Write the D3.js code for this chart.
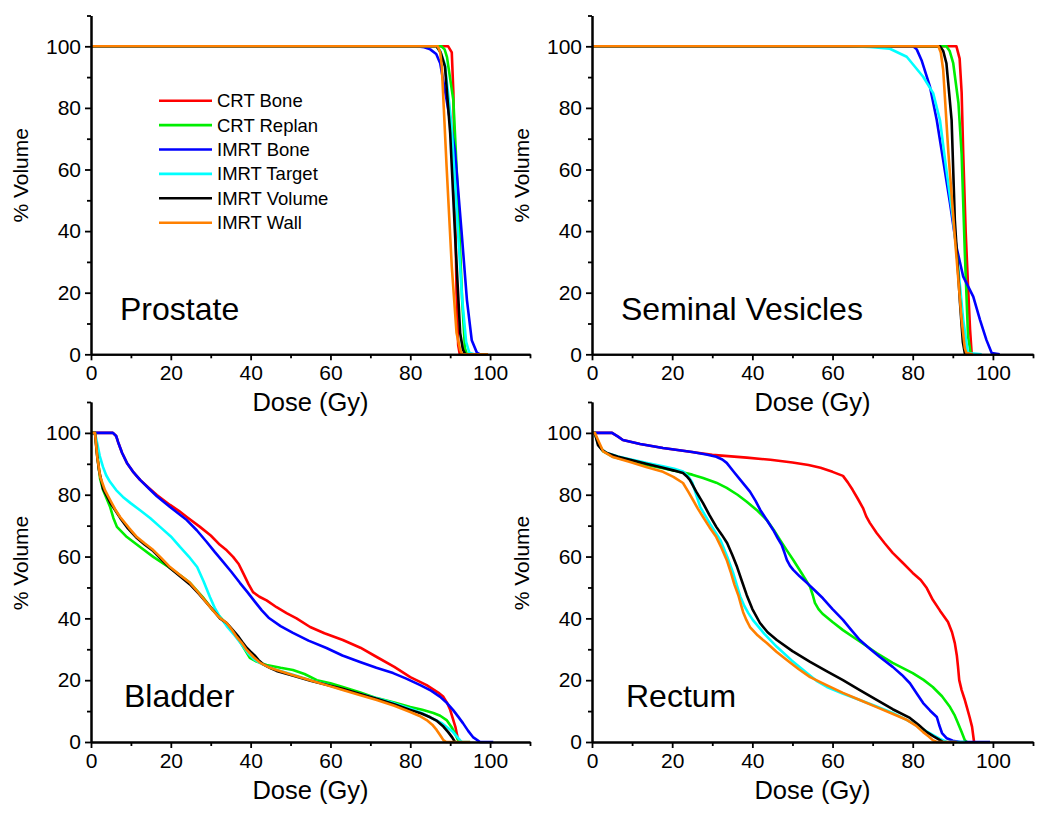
<!DOCTYPE html>
<html><head><meta charset="utf-8">
<script src="https://cdn.jsdelivr.net/npm/d3@7"></script>
<style>body{margin:0;background:#fff;} text{font-family:"Liberation Sans",Arial,sans-serif;}</style>
</head><body>
<svg id="c" width="1050" height="818"></svg>
<script>
const seriesNames = ["CRT Bone","CRT Replan","IMRT Bone","IMRT Target","IMRT Volume","IMRT Wall"];
const seriesColors = ["#ff0000","#00ee00","#0000ff","#00ffff","#000000","#ff8000"];
const majorTicks = [0,20,40,60,80,100];
const minorTicks = [10,30,50,70,90,110];
const panelNames = ["Prostate","Seminal Vesicles","Bladder","Rectum"];
const xTitle = "Dose (Gy)", yTitle = "% Volume";

// Prostate
const prostateCRTBone = [[0,100],[89.5,100],[90.4,98],[90.8,85],[91.2,50],[91.6,20],[92,3],[92.4,0]];
const prostateCRTReplan = [[0,100],[87.8,100],[88.6,99],[89.2,96.5],[90.8,82.5],[92,50],[93,17.6],[93.7,2],[94.2,0]];
const prostateIMRTBone = [[0,100],[81.5,100],[83.5,99.7],[85,99],[86.5,97.5],[87.5,94.5],[89.1,82.6],[91.2,66],[92.9,39],[94.2,17.6],[95.4,4.6],[96.7,0.5],[97.5,0]];
const prostateIMRTTarget = [[0,100],[86.5,100],[87.5,98.5],[88.7,94],[90.3,75],[91.7,45],[93,18],[94,4],[94.8,0.5],[96,0]];
const prostateIMRTVolume = [[0,100],[86.6,100],[87.6,98],[88.7,93.4],[90,71.8],[91.2,39.3],[92.5,6.9],[93.2,1.5],[93.8,0]];
const prostateIMRTWall = [[0,100],[86.9,100],[87.5,98],[87.9,93.4],[89.1,61],[90.4,28.5],[91.6,6.9],[92.5,1.5],[93,0],[99.5,0]];

// Seminal Vesicles
const svCRTBone = [[0,100],[90.9,100],[91.7,96],[92.2,85],[92.6,65],[93.2,40],[93.8,22],[94.3,8],[94.7,0.3],[95,0]];
const svCRTReplan = [[0,100],[88.4,100],[89.2,98.5],[90.1,94.5],[91.4,81.6],[92.2,65],[93,32.8],[93.8,5.7],[94.5,0]];
const svIMRTBone = [[0,100],[80.1,100],[81,99],[82.2,95.5],[84.3,86.9],[86,76],[87.6,63],[89.3,49],[90.9,34.9],[92.6,25.2],[95.1,18.7],[96.8,11.1],[98.4,4.6],[99.7,0.4],[101.7,0]];
const svIMRTTarget = [[0,100],[64,100],[69.3,99.8],[74.3,99.2],[78.5,96.6],[82.6,90.1],[85.1,84.8],[86.8,76],[88.4,59.8],[90.1,43.6],[91.4,27.4],[92.6,11.1],[93.8,0.4],[97.2,0]];
const svIMRTVolume = [[0,100],[86.8,100],[87.6,98.5],[88.4,94.5],[89.7,76],[90.5,43.6],[91.8,16.6],[92.5,4],[93,0.3],[93.5,0]];
const svIMRTWall = [[0,100],[86.4,100],[87,98],[87.6,92.3],[88.9,65.3],[90.5,38.1],[92.2,11.1],[93,2],[93.4,0.4],[95,0]];

// Bladder
const bladderCRTBone = [[0,100],[5.5,100],[6.3,99],[6.8,97],[7.8,93.5],[9,90.3],[10.5,87.5],[12.3,84.8],[14.5,82.2],[16.5,79.9],[19.8,76.7],[22,74.8],[24,72.8],[27.3,69.6],[30,66.8],[32.3,63.8],[34,62],[35.6,59.9],[37,57.6],[38.1,54.7],[39.5,51],[40.6,48.5],[42.2,47],[44,45.8],[46.5,43.6],[49,41.7],[51.5,40],[54.9,37.2],[58.5,35.2],[63.1,33],[67.5,30.5],[71.6,27.5],[76,24.3],[80,21],[84.1,18.4],[87,16],[88.3,14.6],[89.3,12.5],[90,10.4],[91.3,4.9],[92,0.6],[92.5,0]];
const bladderCRTReplan = [[0,100],[1,100],[1.4,95],[1.8,90.3],[2.3,85],[3,81.6],[4.8,76],[5.6,72.5],[6.5,69.6],[9,66.3],[12.3,63.1],[15.6,59.9],[19.8,56.3],[22.5,53.8],[24.8,51.5],[28,46.9],[30.6,42.5],[32.3,40.5],[34.5,37.5],[36.6,34],[38.5,30],[39.8,27.2],[41.5,26],[44,24.9],[47.5,24],[50.6,23.3],[53.5,22],[56.6,20],[60,19],[63.1,17.8],[67.5,16],[71.6,14.2],[76,12.8],[80,11.3],[83,10.4],[85.8,9.4],[87.5,8.5],[89.1,7.1],[90.5,4.5],[92,0.6],[92.5,0]];
const bladderIMRTBone = [[0,100],[5.5,100],[6.3,99],[6.8,97],[7.8,93.5],[9,90.3],[10.5,87.5],[12.3,84.8],[14.5,82],[16.5,79.5],[19.8,76],[24,71.8],[26.5,68.5],[29,64.7],[31,61.5],[33.1,58.3],[35.2,55],[37.3,51.5],[39.2,48.5],[41,45.5],[42.8,42.6],[44.5,40.2],[47.5,37.5],[50.6,35.3],[54.5,32.8],[59,30.4],[63,28],[67.4,25.9],[71.5,24],[75.7,22.3],[79,20.5],[82.5,18.4],[85.2,16.6],[87.5,14.6],[89.2,12.6],[90.7,10.4],[92,8.2],[93.2,6.1],[94.5,3.6],[95.7,1.6],[97.5,0],[100.8,0]];
const bladderIMRTTarget = [[0,100],[1,100],[1.5,97],[2.2,92.5],[3,89],[3.8,86.3],[4.8,84.1],[6.3,81.5],[8,79.3],[10,77.2],[12.3,75],[14.8,72.5],[17.3,69.6],[20,66.5],[22.3,63.1],[24.5,60],[26.6,56.6],[28.2,52],[29.8,46.9],[31,43.4],[32.3,40.5],[34,37.5],[36,34.5],[37.8,31.5],[39.5,28.5],[40.8,26.8],[42,25.8],[44,24.6],[46,23.5],[50,22],[55,20],[59,18.6],[63,17],[67.5,15.5],[72,14],[76,12.5],[80,10.8],[82.7,9.5],[85,8],[88,6],[90.5,3.5],[92.5,0.5],[93,0],[95,0]];
const bladderIMRTVolume = [[0,100],[1,100],[1.5,93],[2,88],[3,82],[4.8,77.5],[7.3,72.5],[9.3,69],[11.5,66],[13.5,63.8],[15.6,61.8],[17.7,59],[19.8,56.3],[22.3,53.6],[24.8,51],[27,48],[29,45],[30.7,42.5],[32.3,40],[34,38.5],[35.5,36.3],[37,34],[38,32.2],[39,30.5],[40,29.2],[41,28],[42,26.5],[43,25.3],[44.8,24],[46.5,23],[50.5,21.5],[55,19.8],[59,18.5],[63,17.2],[67.3,15.6],[71.6,14],[76,12.2],[80,10.4],[82.8,9.2],[85,8],[86.7,6.8],[88.3,5],[89.5,3.2],[90.5,1.5],[91.2,0]];
const bladderIMRTWall = [[0,100],[1,100],[1.6,92],[2.3,85.8],[3.5,81.5],[4.8,78.3],[6,75.4],[7.3,72.8],[9.5,69.3],[11.5,66.3],[13.5,64.2],[15.6,62.1],[17.7,59.4],[19.8,56.6],[22.3,54],[24.8,51.5],[27,48.2],[29,45],[30.6,42.5],[32.3,40.1],[34,38.5],[35.3,36.3],[36.5,34],[37.8,32],[39,29.8],[40.7,27.5],[42.4,25.6],[44.5,24.2],[46.5,23.3],[50.5,21.7],[54.9,20],[59,18.4],[63.1,16.8],[67.3,15.2],[71.6,13.6],[76,11.7],[80,9.7],[82.2,8.5],[84.1,7.1],[85.5,5.6],[86.6,3.9],[87.5,2.2],[88.3,0.6],[89,0],[95,0]];

// Rectum
const rectumCRTBone = [[0,100],[5,100],[6.5,98.8],[7.7,97.7],[12,96.4],[17.7,95.1],[24,94],[30,92.9],[38.6,92],[44.5,91.3],[50,90.4],[54,89.6],[57,88.7],[60,87.4],[62.6,86.1],[63.8,84],[65,81.6],[66.3,78.7],[67.6,75.7],[68.4,73],[69.3,70.9],[71,67.6],[73,64.3],[75,61.2],[77.5,58],[80,54.7],[82,52.4],[83.5,49.8],[85,46],[86.8,42.5],[88.8,38.8],[89.8,35.5],[90.5,32],[91,28],[91.3,24.3],[91.6,20],[92.2,16.8],[92.9,14],[93.5,11.3],[94.2,8],[94.8,4.9],[95.3,0]];
const rectumCRTReplan = [[0,100],[0.7,100],[1.5,96.7],[2.8,94],[5.2,92.3],[9.5,90.9],[13.7,89.6],[18,88.5],[22,87.4],[25,86.5],[27.7,85.4],[31,83.9],[33.6,82.2],[36.3,80],[38.6,77.7],[41.3,74.8],[43.6,71.8],[45.3,68.7],[46.9,65.4],[48.6,62],[50.2,58.9],[52.3,54.6],[54.4,50.2],[55.1,47.4],[55.6,45],[56.5,43],[57.5,41.5],[60,38.8],[62.6,36.2],[66.8,32.5],[71,28.8],[75,25.6],[80,22.3],[82.7,20.1],[85,17.8],[87.3,14.8],[89.3,11.3],[90.4,8.8],[91.3,6.1],[92.2,3.2],[93,0.6],[93.5,0]];
const rectumIMRTBone = [[0,100],[5,100],[6.5,98.8],[7.7,97.7],[12,96.4],[17.7,95.1],[25,93.8],[28.5,93],[31,92.3],[32.5,91.4],[33.6,90.3],[35.3,87.5],[37,84.8],[39.4,81],[40.8,78],[42,75],[43.6,71.8],[45.2,68.6],[46.3,66],[47.3,63.8],[48,61.3],[48.6,58.9],[49.4,57],[50.2,55.7],[51.8,53.6],[53.6,51.5],[55.6,49],[57.6,46.5],[60,43],[62.6,39.5],[64.7,36.2],[66.8,33],[69.3,30.2],[71.8,27.5],[75,24.3],[77.3,21.7],[79.3,19],[81,15.7],[82.6,12.6],[84.3,10.2],[86,8.1],[86.6,5.5],[87.3,2.9],[88.5,1.2],[90,0.4],[91.8,0],[99.3,0]];
const rectumIMRTTarget = [[0,100],[0.7,100],[1.5,96.5],[2.5,94.6],[3.7,93.5],[6.5,92.4],[9.5,91.5],[13.5,90.3],[17.7,89.2],[20.5,88.4],[22.7,87.5],[24,86],[25,84],[26,80],[27,76],[29.5,70.5],[32,65.4],[33.7,60],[35.2,54.7],[36.1,50.8],[37,47],[38,44],[39,41.7],[40.1,39.5],[43,35],[46.1,30.8],[49.8,26.4],[53.6,22.3],[56,19.8],[58.6,17.8],[62.5,15.7],[66.8,13.6],[71,11.5],[75,9.4],[77.5,7.8],[80,6.1],[82.5,4.2],[85,2.3],[86.8,1],[88.5,0],[93,0]];
const rectumIMRTVolume = [[0,100],[0.7,100],[1.5,96],[2.5,94.5],[3.7,93.5],[6.5,92.3],[9.5,91.3],[13.5,90],[17.7,88.7],[20.5,87.8],[22.7,87],[23.6,86],[24.4,84.8],[26,81],[27.7,77.3],[29.3,73.4],[31,69.6],[32.4,67],[33.7,64.4],[35,60.5],[36.2,56.6],[37.4,52],[38.6,47.5],[40,43],[41.9,38.5],[43.8,35.5],[46.1,33],[50,29.4],[54.4,25.9],[58.5,22.9],[62.6,20],[66.8,16.8],[71,13.6],[75,10.6],[79.3,7.8],[81.5,5.5],[83.5,3.2],[85.2,1.8],[86.8,0.6],[87.5,0]];
const rectumIMRTWall = [[0,100],[0.7,100],[1.5,97.7],[2.8,94],[5.2,92.2],[9.5,90.6],[13.5,89],[17.7,87.4],[20.3,85.8],[22.7,83.8],[24,81],[25.2,78.3],[26.4,75.5],[27.7,72.8],[29.3,69.5],[31,66.3],[32.3,62.8],[33.6,58.9],[34.6,55],[35.5,51],[36.5,47.5],[37.1,44.7],[37.7,42],[38.5,39.5],[39.4,37.2],[41.3,34.5],[43.6,32],[46,29.2],[48.6,26.5],[51.5,23.6],[54.4,21],[58.5,18.4],[62.6,15.9],[66.8,13.6],[71,11.3],[74.8,9.2],[78.6,7.1],[80.8,5.3],[82.6,3.2],[84,1.8],[85,0.6],[86,0],[91,0]];

const panelData = [
  [prostateCRTBone,prostateCRTReplan,prostateIMRTBone,prostateIMRTTarget,prostateIMRTVolume,prostateIMRTWall],
  [svCRTBone,svCRTReplan,svIMRTBone,svIMRTTarget,svIMRTVolume,svIMRTWall],
  [bladderCRTBone,bladderCRTReplan,bladderIMRTBone,bladderIMRTTarget,bladderIMRTVolume,bladderIMRTWall],
  [rectumCRTBone,rectumCRTReplan,rectumIMRTBone,rectumIMRTTarget,rectumIMRTVolume,rectumIMRTWall]
];

// layout
const panels = [
  {x0:91, x1:530, y0:354.3, y1:15.5, lx:120, ly:320},
  {x0:592, x1:1033, y0:354.3, y1:15.5, lx:621, ly:320},
  {x0:91, x1:530, y0:742, y1:402, lx:124, ly:707},
  {x0:592, x1:1033, y0:742, y1:402, lx:626, ly:707}
];

const svg = d3.select("#c");
panels.forEach((p, i) => {
  const x = d3.scaleLinear().domain([0,110]).range([p.x0, p.x1]);
  const y = d3.scaleLinear().domain([0,110]).range([p.y0, p.y1]);
  const g = svg.append("g");
  const line = d3.line().x(d => x(d[0])).y(d => y(d[1]));
  panelData[i].forEach((s, k) => {
    g.append("path").datum(s).attr("d", line).attr("fill","none")
      .attr("stroke", seriesColors[k]).attr("stroke-width", 2.6).attr("stroke-linejoin","round");
  });
  // axes
  const ax = g.append("g").attr("transform",`translate(0,${p.y0})`);
  ax.call(d3.axisBottom(x).tickValues(majorTicks).tickSize(6).tickPadding(5).tickSizeOuter(0));
  const axm = g.append("g").attr("transform",`translate(0,${p.y0})`);
  axm.call(d3.axisBottom(x).tickValues(minorTicks).tickSize(4).tickFormat("").tickSizeOuter(0));
  const ay = g.append("g").attr("transform",`translate(${p.x0},0)`);
  ay.call(d3.axisLeft(y).tickValues(majorTicks).tickSize(6).tickPadding(4).tickSizeOuter(0));
  const aym = g.append("g").attr("transform",`translate(${p.x0},0)`);
  aym.call(d3.axisLeft(y).tickValues(minorTicks).tickSize(4).tickFormat("").tickSizeOuter(0));
  g.selectAll(".domain").attr("stroke","#000").attr("stroke-width",2);
  g.selectAll(".tick line").attr("stroke","#000").attr("stroke-width",1.8);
  g.selectAll(".tick text").attr("font-size",21).attr("fill","#000")
    .attr("font-family",'"Liberation Sans",Arial,sans-serif');
  // titles
  g.append("text").attr("x",(p.x0+p.x1)/2).attr("y",p.y0+57).attr("text-anchor","middle")
    .attr("font-size",25.5).text(xTitle);
  g.append("text").attr("transform",`translate(${p.x0-63},${p.y0-179}) rotate(-90)`)
    .attr("text-anchor","middle").attr("font-size",21).text(yTitle);
  g.append("text").attr("x",p.lx).attr("y",p.ly).attr("font-size",32).text(panelNames[i]);
  // legend in first panel
  if (i === 0) {
    seriesNames.forEach((n, k) => {
      const yy = 100.7 + k*24.4;
      g.append("line").attr("x1",159).attr("x2",212).attr("y1",yy).attr("y2",yy)
        .attr("stroke",seriesColors[k]).attr("stroke-width",2.6);
      g.append("text").attr("x",217).attr("y",yy+6.5).attr("font-size",18.5).text(n);
    });
  }
});
</script>
</body></html>
